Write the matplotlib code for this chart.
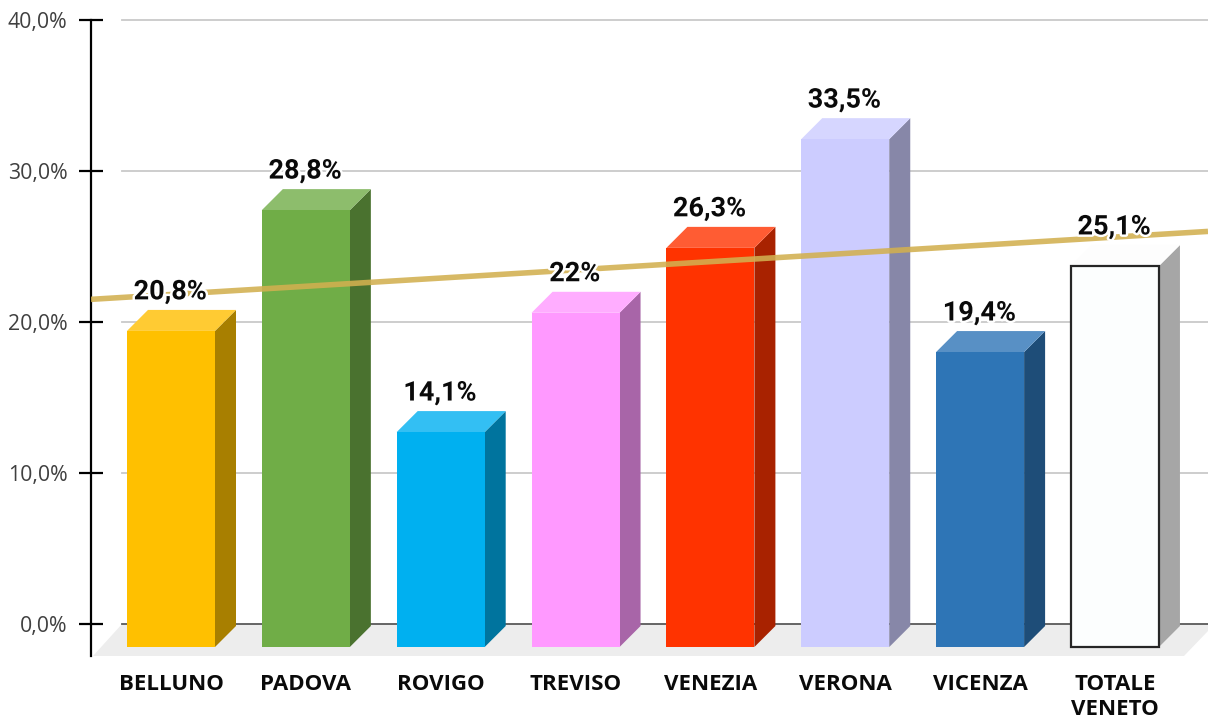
import matplotlib
matplotlib.use('Agg')
import matplotlib.pyplot as plt
import matplotlib.patheffects as pe
from matplotlib.patches import Polygon

categories = ['BELLUNO', 'PADOVA', 'ROVIGO', 'TREVISO', 'VENEZIA', 'VERONA', 'VICENZA', 'TOTALE\nVENETO']
values = [20.8, 28.8, 14.1, 22.0, 26.3, 33.5, 19.4, 25.1]
value_labels = ['20,8%', '28,8%', '14,1%', '22%', '26,3%', '33,5%', '19,4%', '25,1%']
front_colors = ['#FFC000', '#70AD47', '#00B0F0', '#FF99FF', '#FF3300', '#CCCCFF', '#2E75B6', '#FCFEFE']
side_colors = ['#A87F00', '#4A722F', '#00749E', '#A865A8', '#A82200', '#8787A8', '#1E4D78', '#A6A6A6']
top_colors = ['#FFCB33', '#8DBD6C', '#33BFF3', '#FFADFF', '#FF5C33', '#D6D6FF', '#5890C5', '#FDFDFD']
y_ticks = [0, 10, 20, 30, 40]
y_tick_labels = ['0,0%', '10,0%', '20,0%', '30,0%', '40,0%']
trend_values = [21.5, 26.0]

W, H = 1208, 720
X_STEP = 134.85  # px per categoria
Y_STEP = 15.1    # px per punto percentuale

fig = plt.figure(figsize=(W / 100, H / 100), dpi=100)
ax = fig.add_axes([91 / W, (H - 656) / H, (W - 91) / W, 656 / H])
x0 = (91 - 171) / X_STEP
x1 = (W - 171) / X_STEP
y0 = (624 - 656) / Y_STEP
y1 = 624 / Y_STEP
ax.set_xlim(x0, x1)
ax.set_ylim(y0, y1)

# profondita' finta 3d
dx = 21 / X_STEP
dy = 21 / Y_STEP
bar_w = 88 / X_STEP
base = -23 / Y_STEP

# pavimento
floor_x = [x0 + 2 / X_STEP, (122 - 171) / X_STEP, x1, x1, (1184 - 171) / X_STEP]
floor_y = [y0, 0, 0, -7 / Y_STEP, y0]
ax.add_patch(Polygon(list(zip(floor_x, floor_y)), closed=True, fc='#EDEDED', ec='none', zorder=1))

# griglia
for t in y_ticks[1:]:
    ax.plot([(122 - 171) / X_STEP, x1], [t, t], color='#C9C9C9', lw=1.3, zorder=0.5)
ax.plot([(122 - 171) / X_STEP, x1], [0, 0], color='#595959', lw=1.3, zorder=1.5)

# barre
for i, v in enumerate(values):
    left = i - bar_w / 2
    right = i + bar_w / 2
    top = v - dy
    side = [(right, base), (right + dx, base + dy), (right + dx, v), (right, top)]
    roof = [(left, top), (left + dx, v), (right + dx, v), (right, top)]
    ax.add_patch(Polygon(side, closed=True, fc=side_colors[i], ec='none', zorder=2))
    ax.add_patch(Polygon(roof, closed=True, fc=top_colors[i], ec='none', zorder=2))
    if i == len(values) - 1:
        ax.bar(i, top - base, bar_w, bottom=base, color=front_colors[i], edgecolor='#262626', linewidth=1.6, zorder=3)
    else:
        ax.bar(i, top - base, bar_w, bottom=base, color=front_colors[i], zorder=3)

# linea di tendenza
ax.plot([x0, x1], trend_values, color='#D2B050', lw=4, alpha=0.88, solid_capstyle='butt', zorder=4)

# etichette valori
for i, v in enumerate(values):
    ax.annotate(value_labels[i], (i, v), xytext=(-0.5, 13), textcoords='offset points',
                ha='center', va='center', family='Roboto', fontweight='bold', fontsize=19.5, color='#0A0A0A',
                zorder=5, path_effects=[pe.withStroke(linewidth=3.5, foreground='white')])

# assi
for s in ['top', 'right', 'bottom']:
    ax.spines[s].set_visible(False)
ax.spines['left'].set_linewidth(1.6)
ax.spines['left'].set_color('black')
ax.spines['left'].set_bounds(y0, 40)
ax.set_yticks(y_ticks)
ax.set_yticklabels(y_tick_labels, family='Open Sans', fontsize=15.3, color='#404040')
ax.tick_params(axis='y', direction='inout', length=17, width=1.6, color='black', pad=8.5)
ax.set_xticks(range(len(categories)))
ax.set_xticklabels(categories, family='Open Sans', fontweight='bold', fontsize=16, color='#0A0A0A', linespacing=1.25, va='top')
ax.tick_params(axis='x', length=0, pad=13)

fig.savefig('out.png', dpi=100)
